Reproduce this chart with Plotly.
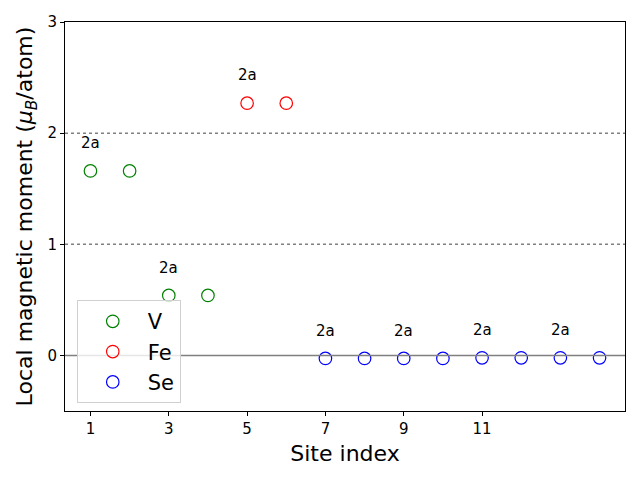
import plotly.graph_objects as go

# site data
v_sites = [1, 2, 3, 4]
v_moments = [1.66, 1.66, 0.54, 0.54]
fe_sites = [5, 6]
fe_moments = [2.27, 2.27]
se_sites = [7, 8, 9, 10, 11, 12, 13, 14]
se_moments = [-0.027, -0.027, -0.027, -0.027, -0.022, -0.022, -0.022, -0.022]

# Wyckoff labels
label_sites = [1, 3, 5, 7, 9, 11, 13]
label_values = [1.66, 0.54, 2.27, -0.027, -0.027, -0.022, -0.022]
label_text = "2a"

x_ticks = [1, 3, 5, 7, 9, 11]
y_ticks = [0, 1, 2, 3]

fig = go.Figure()

for name, xs, ys, color in [
    ("V", v_sites, v_moments, "green"),
    ("Fe", fe_sites, fe_moments, "red"),
    ("Se", se_sites, se_moments, "blue"),
]:
    fig.add_trace(go.Scatter(
        x=xs, y=ys, mode="markers", name=name,
        marker=dict(symbol="circle-open", size=12.5, color=color, line=dict(width=1.2)),
    ))

for xs, ys in zip(label_sites, label_values):
    fig.add_annotation(x=xs, y=ys + 0.25, text=label_text, showarrow=False,
                       font=dict(size=15, color="black"))

fig.add_hline(y=0, line=dict(color="grey", width=1.5))
fig.add_hline(y=1, line=dict(color="grey", width=1.5, dash="dot"))
fig.add_hline(y=2, line=dict(color="grey", width=1.5, dash="dot"))

axis_style = dict(showline=True, linecolor="black", linewidth=1, mirror=True,
                  ticks="outside", ticklen=4, tickcolor="black", automargin=False,
                  showgrid=False, zeroline=False, tickfont=dict(size=15, color="black"))

fig.update_xaxes(range=[0.35, 14.65], tickvals=x_ticks,
                 title=dict(text="Site index", font=dict(size=22, color="black"), standoff=8),
                 **axis_style)
fig.update_yaxes(range=[-0.5, 3], tickvals=y_ticks,
                 title=dict(text="Local magnetic moment (<i>μ<sub>B</sub></i>/atom)",
                            font=dict(size=22, color="black"), standoff=8),
                 **axis_style)

# page body has an 8px margin, so the figure is a bit smaller than the window
fig.update_layout(
    width=632, height=472,
    margin=dict(l=57, r=15, t=14, b=69),
    plot_bgcolor="white", paper_bgcolor="white",
    font=dict(family="DejaVu Sans", color="black"),
    legend=dict(x=0.021, y=0.285, xanchor="left", yanchor="top",
                bgcolor="rgba(255,255,255,0.8)", bordercolor="#d0d0d0", borderwidth=1,
                font=dict(size=21), itemwidth=60, tracegroupgap=0),
)

fig.write_html("out.html")
